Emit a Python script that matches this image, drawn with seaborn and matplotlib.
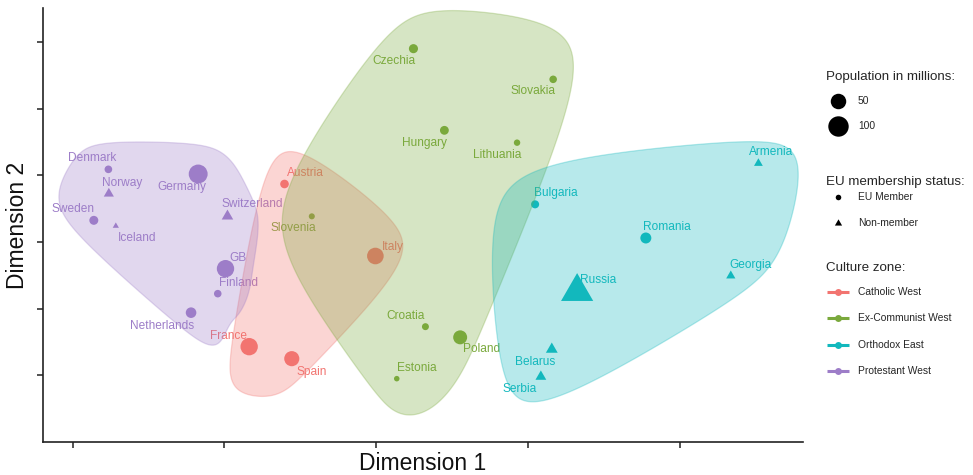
import numpy as np
import pandas as pd
import matplotlib
matplotlib.use("Agg")
import matplotlib.pyplot as plt
import seaborn as sns
from matplotlib.patches import Polygon
from matplotlib.lines import Line2D

# ---------------- data ----------------
countries = ["Denmark", "Norway", "Germany", "Sweden", "Iceland", "Switzerland", "GB",
             "Finland", "Netherlands",
             "Austria", "Italy", "France", "Spain",
             "Slovenia", "Estonia", "Czechia", "Slovakia", "Hungary", "Lithuania",
             "Croatia", "Poland",
             "Bulgaria", "Romania", "Armenia", "Georgia", "Russia", "Belarus", "Serbia"]
zones = (["Protestant West"] * 9 + ["Catholic West"] * 4 +
         ["Ex-Communist West"] * 8 + ["Orthodox East"] * 7)
dim1 = [-1.765, -1.762, -1.173, -1.861, -1.716, -0.980, -0.993, -1.044, -1.220,
        -0.604, -0.005, -0.837, -0.556,
        -0.424, 0.136, 0.246, 1.167, 0.450, 0.929, 0.325, 0.554,
        1.048, 1.778, 2.520, 2.338, 1.325, 1.158, 1.086]
dim2 = [1.09, 0.725, 1.02, 0.325, 0.24, 0.387, -0.40, -0.775, -1.06,
        0.87, -0.21, -1.57, -1.75,
        0.385, -2.05, 2.90, 2.44, 1.675, 1.49, -1.27, -1.43,
        0.565, 0.06, 1.18, -0.507, -0.745, -1.61, -2.02]
population = [5.8, 5.4, 83.0, 10.2, 0.36, 8.6, 67.0, 5.5, 17.3,
              8.9, 60.0, 67.0, 47.0,
              2.1, 1.3, 10.7, 5.5, 9.7, 2.8, 4.0, 38.0,
              7.0, 19.3, 3.0, 3.7, 145.0, 9.4, 6.9]
eu_status = ["EU Member", "Non-member", "EU Member", "EU Member", "Non-member",
             "Non-member", "EU Member", "EU Member", "EU Member",
             "EU Member", "EU Member", "EU Member", "EU Member",
             "EU Member", "EU Member", "EU Member", "EU Member", "EU Member",
             "EU Member", "EU Member", "EU Member",
             "EU Member", "EU Member", "Non-member", "Non-member", "Non-member",
             "Non-member", "Non-member"]

zone_order = ["Catholic West", "Ex-Communist West", "Orthodox East", "Protestant West"]
zone_colors = ["#F27470", "#7AA93C", "#12B8BD", "#9D7DC8"]
eu_order = ["EU Member", "Non-member"]
size_breaks = [50, 100]
x_ticks = [-2, -1, 0, 1, 2]
y_ticks = [-2, -1, 0, 1, 2, 3]

# label offsets (pixels, dx, dy-up)
label_offsets = {
    "Denmark": (-16, 11), "Norway": (13, 11), "Germany": (-16, -13), "Sweden": (-21, 11),
    "Iceland": (21, -12), "Switzerland": (25, 12), "GB": (13, 11), "Finland": (21, 11),
    "Netherlands": (-29, -13), "Austria": (21, 11), "Slovenia": (-18, -12),
    "Italy": (18, 9), "France": (-21, 11), "Spain": (20, -13), "Estonia": (20, 11),
    "Czechia": (-20, -12), "Slovakia": (-20, -12), "Hungary": (-20, -13),
    "Lithuania": (-20, -12), "Croatia": (-20, 11), "Poland": (21, -12),
    "Bulgaria": (21, 11), "Romania": (21, 11), "Armenia": (13, 11), "Georgia": (20, 11),
    "Russia": (21, 12), "Belarus": (-17, -13), "Serbia": (-21, -12),
}

# ---------------- style ----------------
sns.set_theme(style="white")
plt.rcParams["font.family"] = ["Liberation Sans", "DejaVu Sans"]

W, H, DPI = 973, 475, 100
fig = plt.figure(figsize=(W / DPI, H / DPI), dpi=DPI)
PX_L, PX_R, PX_T, PX_B = 43, 803, 8, 442
ax = fig.add_axes([PX_L / W, 1 - PX_B / H, (PX_R - PX_L) / W, (PX_B - PX_T) / H])
ax.set_xlim(-2.196, 2.814)
ax.set_ylim(-3.0, 3.51)

palette = dict(zip(zone_order, zone_colors))

df = pd.DataFrame({"country": countries, "zone": zones, "dim1": dim1, "dim2": dim2,
                   "pop": population, "eu": eu_status})


def diam_px(p):
    return 3.6 + 1.68 * np.sqrt(p)


TRI_SCALE = 1.559
df["area"] = (diam_px(df["pop"]) * 0.72 *
              np.where(df["eu"] == "Non-member", TRI_SCALE, 1.0)) ** 2

s3 = np.sqrt(3)
tri_marker = [(0.0, 1 / s3), (-0.5, -0.5 / s3), (0.5, -0.5 / s3)]

amin, amax = df["area"].min(), df["area"].max()
sns.scatterplot(data=df, x="dim1", y="dim2", hue="zone", palette=palette,
                hue_order=zone_order, style="eu", style_order=eu_order,
                markers={"EU Member": "o", "Non-member": tri_marker},
                size="area", sizes=(amin, amax), size_norm=(amin, amax),
                edgecolor="none", linewidth=0, legend=False, ax=ax, zorder=2)

for _, r in df.iterrows():
    dx, dy = label_offsets[r["country"]]
    ax.annotate(r["country"], xy=(r["dim1"], r["dim2"]), xytext=(dx, dy),
                textcoords="offset pixels", ha="center", va="center",
                fontsize=8.6, color=palette[r["zone"]], zorder=2.5)


# ---------------- encircling hulls (ggalt-style x-spline) ----------------
def convex_hull(P):
    pts = sorted(map(tuple, P))

    def cross(o, a, b):
        return (a[0] - o[0]) * (b[1] - o[1]) - (a[1] - o[1]) * (b[0] - o[0])
    lower = []
    for p in pts:
        while len(lower) >= 2 and cross(lower[-2], lower[-1], p) <= 0:
            lower.pop()
        lower.append(p)
    upper = []
    for p in reversed(pts):
        while len(upper) >= 2 and cross(upper[-2], upper[-1], p) <= 0:
            upper.pop()
        upper.append(p)
    return np.array(lower[:-1] + upper[:-1])


def g_blend(u, q):
    return u * (q + u * (2 * q + u * (8 - 12 * q + u * (14 * q - 11 + u * (4 - 5 * q)))))


def h_blend(u, q):
    return u * (q + u * (2 * q + u * u * (-2 * q - u * q)))


def xspline_closed(ctrl, shape=-0.5, n=80):
    q = -shape
    N = len(ctrl)
    ts = np.linspace(0, 1, n, endpoint=False)
    A0 = h_blend(-ts, q)
    A1 = g_blend(1 - ts, q)
    A2 = g_blend(ts, q)
    A3 = h_blend(ts - 1, q)
    S = A0 + A1 + A2 + A3
    out = []
    for k in range(N):
        P0, P1, P2, P3 = (ctrl[(k - 1) % N], ctrl[k], ctrl[(k + 1) % N], ctrl[(k + 2) % N])
        pts = (A0[:, None] * P0 + A1[:, None] * P1 + A2[:, None] * P2 + A3[:, None] * P3) / S[:, None]
        out.append(pts)
    return np.vstack(out)


expand = 0.068
panel_w = ax.bbox.width
panel_h = ax.bbox.height
e_px = expand * min(panel_w, panel_h)
for zone, col in zip(zone_order, zone_colors):
    sub = df[df["zone"] == zone]
    P = ax.transData.transform(np.column_stack([sub["dim1"], sub["dim2"]]))
    m = P.mean(axis=0)
    hull = convex_hull(P)
    d = hull - m
    d = d / np.linalg.norm(d, axis=1)[:, None]
    ctrl = hull + d * e_px
    curve = xspline_closed(ctrl)
    curve_data = ax.transData.inverted().transform(curve)
    ax.add_patch(Polygon(curve_data, closed=True, facecolor=col, edgecolor=col,
                         alpha=0.3, lw=0.9, zorder=3))

# ---------------- axes ----------------
ax.set_xticks(x_ticks)
ax.set_yticks(y_ticks)
ax.tick_params(axis="both", which="both", bottom=True, left=True, direction="out",
               length=4.5, width=1.1, color="#222222", labelbottom=False, labelleft=False)
for side in ["top", "right"]:
    ax.spines[side].set_visible(False)
for side in ["left", "bottom"]:
    ax.spines[side].set_color("#222222")
    ax.spines[side].set_linewidth(1.2)

ax.set_xlabel("Dimension 1", fontsize=16.5, color="#111111")
ax.set_ylabel("Dimension 2", fontsize=16.5, color="#111111")
ax.xaxis.set_label_coords(0.5, (PX_B - 463) / (PX_B - PX_T))
ax.xaxis.label.set_va("center")
ax.yaxis.set_label_coords((18 - PX_L) / (PX_R - PX_L), 0.5)
ax.yaxis.label.set_va("center")
ax.yaxis.label.set_ha("center")


# ---------------- legends (manual, figure coords) ----------------
def fx(px):
    return px / W


def fy(py):
    return 1 - py / H


TITLE_FS = 9.6
LAB_FS = 7.4
KEY_X = 838
LAB_X = 858

fig.text(fx(826), fy(77), "Population in millions:", fontsize=TITLE_FS, va="center", ha="left")
for b, yy in zip(size_breaks, [101, 126]):
    fig.add_artist(Line2D([fx(KEY_X)], [fy(yy)], transform=fig.transFigure, marker="o",
                          markersize=diam_px(b) * 0.72, color="black", markeredgewidth=0,
                          linestyle="none"))
    fig.text(fx(LAB_X), fy(yy), str(b), fontsize=LAB_FS, va="center", ha="left")

fig.text(fx(826), fy(182), "EU membership status:", fontsize=TITLE_FS, va="center", ha="left")
eu_markers = ["o", tri_marker]
eu_ms = [4.0, 6.0]
for lab, mk, ms, yy in zip(eu_order, eu_markers, eu_ms, [197, 223]):
    fig.add_artist(Line2D([fx(KEY_X)], [fy(yy)], transform=fig.transFigure, marker=mk,
                          markersize=ms, color="black", markeredgewidth=0, linestyle="none"))
    fig.text(fx(LAB_X), fy(yy), lab, fontsize=LAB_FS, va="center", ha="left")

fig.text(fx(826), fy(268), "Culture zone:", fontsize=TITLE_FS, va="center", ha="left")
for zone, col, yy in zip(zone_order, zone_colors, [292, 318, 345, 371]):
    fig.add_artist(Line2D([fx(827), fx(849)], [fy(yy), fy(yy)], transform=fig.transFigure,
                          color=col, lw=2.2, solid_capstyle="butt"))
    fig.add_artist(Line2D([fx(KEY_X)], [fy(yy)], transform=fig.transFigure, marker="o",
                          markersize=5, color=col, markeredgewidth=0, linestyle="none"))
    fig.text(fx(LAB_X), fy(yy), zone, fontsize=LAB_FS, va="center", ha="left")

fig.savefig("out.png", dpi=DPI, facecolor="white")
